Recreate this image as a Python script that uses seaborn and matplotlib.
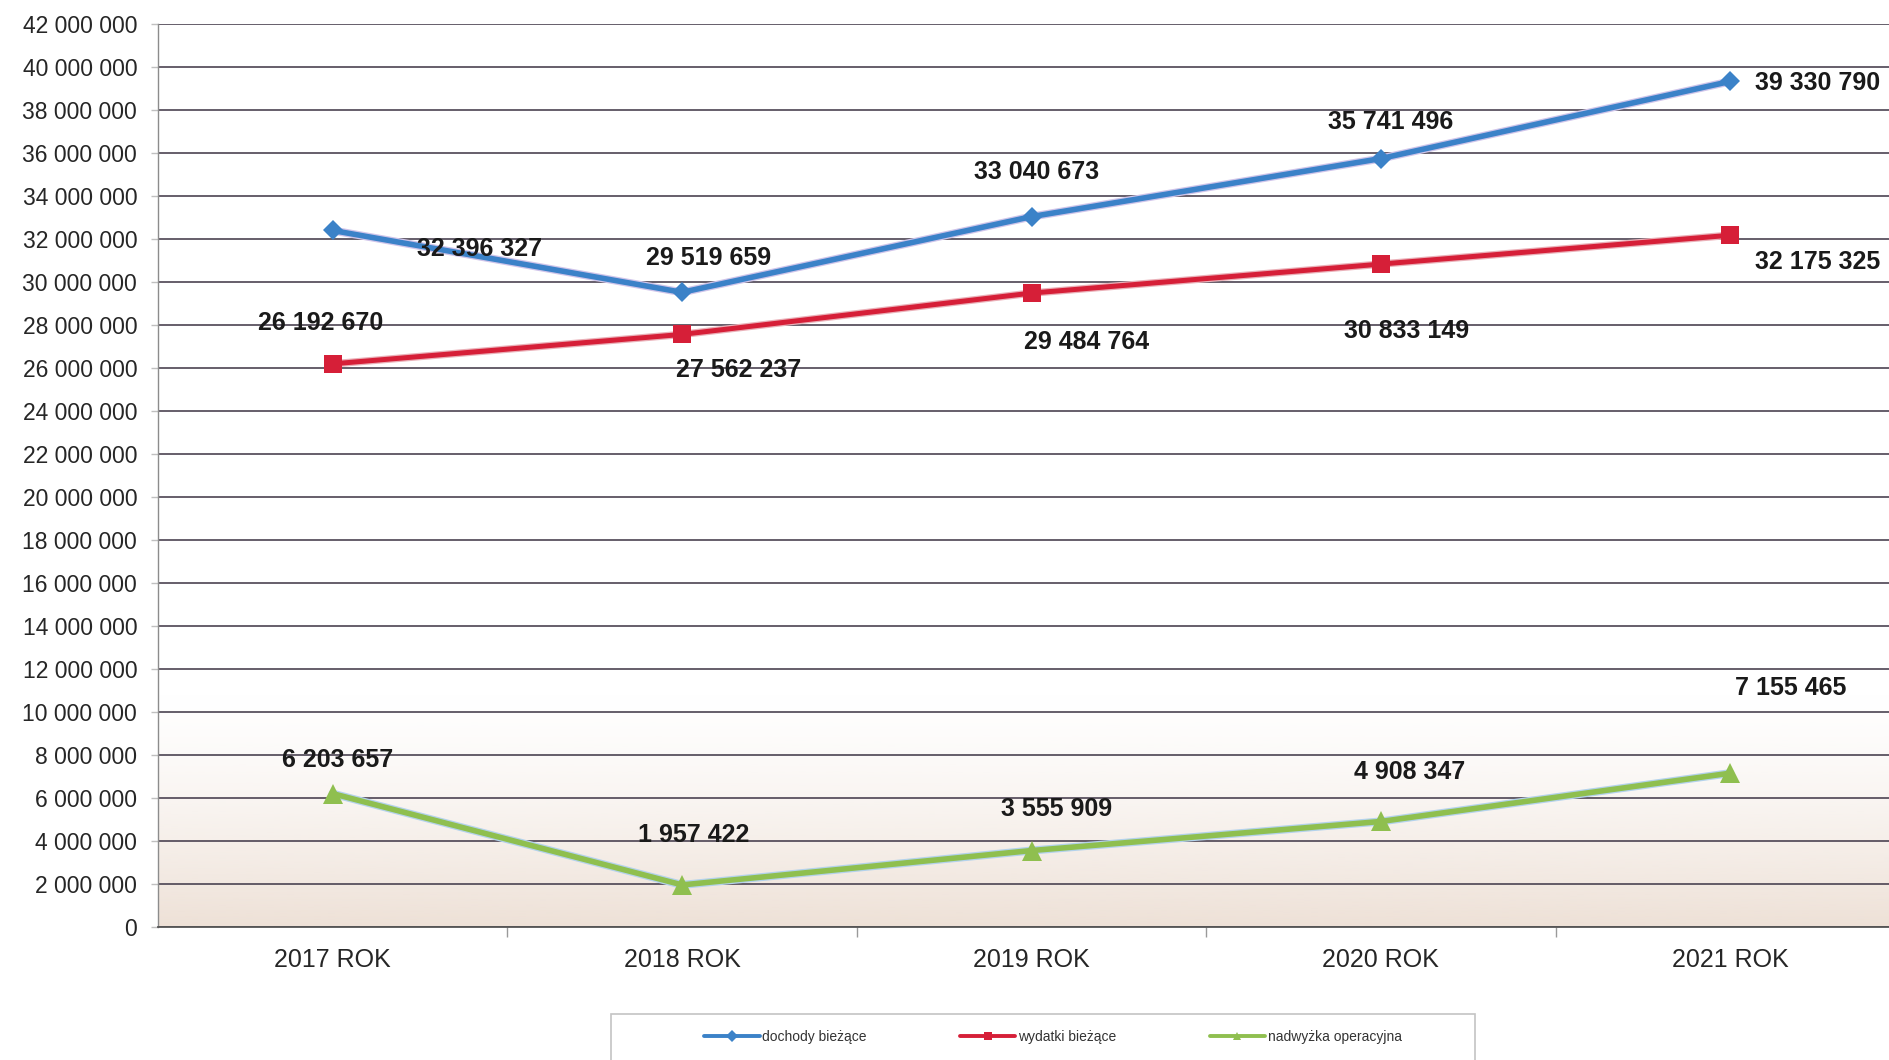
import numpy as np
import pandas as pd
import matplotlib
matplotlib.use("Agg")
import matplotlib.pyplot as plt
from matplotlib.lines import Line2D
from matplotlib.patches import Rectangle
from matplotlib.ticker import MultipleLocator, FuncFormatter, FixedLocator
import seaborn as sns

# -------------------------------------------------------------------------------------
# DATA
# -------------------------------------------------------------------------------------
YEARS = ["2017 ROK", "2018 ROK", "2019 ROK", "2020 ROK", "2021 ROK"]
DOCHODY = [32396327, 29519659, 33040673, 35741496, 39330790]
WYDATKI = [26192670, 27562237, 29484764, 30833149, 32175325]
NADWYZKA = [6203657, 1957422, 3555909, 4908347, 7155465]
SERIES_NAMES = ["dochody bieżące", "wydatki bieżące", "nadwyżka operacyjna"]

# -------------------------------------------------------------------------------------
# STYLE
# -------------------------------------------------------------------------------------
sns.set_theme(style="white")
plt.rcParams["font.family"] = ["Liberation Sans", "DejaVu Sans"]

STYLES = {
    "dochody bieżące": dict(color="#3b82c8", marker="D", ms=10, lw=4.0, edge="#cfc4ea"),
    "wydatki bieżące": dict(color="#d61f38", marker="s", ms=13, lw=3.6, edge="#eab0b8"),
    "nadwyżka operacyjna": dict(color="#8fbf4f", marker="^", ms=14, lw=4.0, edge="#b3d2ec"),
}

# label offsets in pixels (dx, dy, ha) relative to each point
LABEL_OFFSETS = {
    "dochody bieżące": [(147, -19, "center"), (26, 34, "center"), (5, 45, "center"),
                        (10, 37, "center"), (25, -2, "left")],
    "wydatki bieżące": [(-12, 41, "center"), (57, -36, "center"), (55, -49, "center"),
                        (26, -67, "center"), (25, -27, "left")],
    "nadwyżka operacyjna": [(5, 34, "center"), (12, 50, "center"), (25, 42, "center"),
                            (29, 49, "center"), (60, 85, "center")],
}


def fmt_pl(v):
    return f"{int(round(v)):,}".replace(",", " ")


def build_chart():
    fig = plt.figure(figsize=(18.9, 10.6), dpi=100)
    ax = fig.add_axes([158 / 1890, 1 - 927 / 1060, 1747 / 1890, 903 / 1060])

    x_pos = np.arange(len(YEARS))
    df = pd.DataFrame({
        "x": np.tile(x_pos, 3),
        "wartosc": DOCHODY + WYDATKI + NADWYZKA,
        "seria": np.repeat(SERIES_NAMES, len(YEARS)),
    })

    # soft beige gradient behind the lower part of the plot (scanned paper tint)
    grad = np.zeros((200, 1, 4))
    grad[:, 0, :3] = np.array([238, 225, 215]) / 255
    grad[:, 0, 3] = np.linspace(0.0, 1.0, 200) ** 1.4
    ax.imshow(grad, extent=(-0.5, 4.5, 0, 11e6), aspect="auto", origin="upper",
              zorder=0, interpolation="bilinear")

    for name in SERIES_NAMES:
        st = STYLES[name]
        sub = df[df["seria"] == name]
        # faint halo under the line, as in the printed original
        sns.lineplot(data=sub, x="x", y="wartosc", ax=ax, color=st["edge"],
                     linewidth=st["lw"] + 1.8, legend=False, zorder=2)
        sns.lineplot(data=sub, x="x", y="wartosc", ax=ax, color=st["color"],
                     marker=st["marker"], markersize=st["ms"], linewidth=st["lw"],
                     markeredgewidth=0, legend=False, zorder=3)
        for (xi, v), (dx, dy, ha) in zip(zip(sub["x"], sub["wartosc"]), LABEL_OFFSETS[name]):
            ax.annotate(fmt_pl(v), xy=(xi, v), xytext=(dx, dy), textcoords="offset pixels",
                        ha=ha, va="center", fontsize=18, fontweight="bold",
                        color="#1a1a1a", zorder=4)

    ax.set_xlim(-0.5, 4.5)
    ax.set_ylim(0, 42e6)
    ax.set_xlabel("")
    ax.set_ylabel("")

    ax.set_xticks(x_pos)
    ax.set_xticklabels(YEARS)
    ax.xaxis.set_minor_locator(FixedLocator(x_pos[:-1] + 0.5))
    ax.tick_params(axis="x", which="major", length=0, labelsize=18, pad=15, labelcolor="#262626")
    ax.tick_params(axis="x", which="minor", length=7, width=1, color="#9a9a9a", bottom=True)

    ax.yaxis.set_major_locator(MultipleLocator(2e6))
    ax.yaxis.set_major_formatter(FuncFormatter(lambda v, _: fmt_pl(v)))
    ax.tick_params(axis="y", length=5, width=1, color="#c0c0c0", labelsize=16.5,
                   pad=10, labelcolor="#262626", left=True)

    ax.yaxis.grid(True, color="#4b4352", linewidth=1.2)
    ax.xaxis.grid(False)
    ax.set_axisbelow(True)

    for s in ["top", "right"]:
        ax.spines[s].set_visible(False)
    ax.spines["left"].set_color("#8c8c8c")
    ax.spines["left"].set_linewidth(1.0)
    ax.spines["bottom"].set_color("#555555")
    ax.spines["bottom"].set_linewidth(1.3)

    # legend box at the bottom (partially cut off, as in the source)
    box = Rectangle((611 / 1890, -0.06), (1475 - 611) / 1890, 0.06 + (1 - 1014 / 1060),
                    transform=fig.transFigure, facecolor="white", edgecolor="#c4c4c4",
                    linewidth=1.2, zorder=1)
    fig.add_artist(box)

    handles = [Line2D([], [], color=STYLES[n]["color"], lw=2.8, marker=STYLES[n]["marker"],
                      markersize=6, markeredgewidth=0) for n in SERIES_NAMES]
    fig.legend(handles, SERIES_NAMES, loc="center left",
               bbox_to_anchor=(704 / 1890, 1 - 1037 / 1060), ncol=3, frameon=False,
               borderpad=0, borderaxespad=0, fontsize=10, handlelength=4.0,
               handletextpad=0.2, columnspacing=6.7, labelcolor="#333333")

    fig.savefig("out.png", dpi=100)
    plt.close(fig)


if __name__ == "__main__":
    build_chart()
